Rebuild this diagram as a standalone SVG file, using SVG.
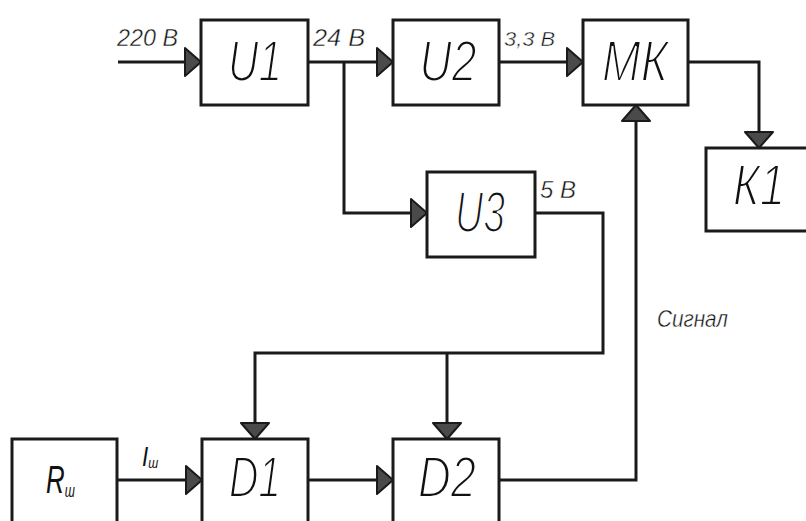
<svg xmlns="http://www.w3.org/2000/svg" width="806" height="521" viewBox="0 0 806 521">
<style>
.box{fill:#fff;stroke:#1a1a1a;stroke-width:3}
.ln{fill:none;stroke:#1a1a1a;stroke-width:3}
.t{font-family:"Liberation Sans",Arial,sans-serif;font-style:italic;fill:#111}
.big{font-size:57px;stroke:#fff;stroke-width:2px;paint-order:fill stroke}
.lbl{font-size:24px;stroke:#fff;stroke-width:0.45px;paint-order:fill stroke}
</style>
<defs>
<marker id="ah" viewBox="-2 -2 20 32" refX="16" refY="14" markerWidth="20" markerHeight="32" markerUnits="userSpaceOnUse" orient="auto" overflow="visible">
<path d="M0,0 L16,14 L0,28 Z" fill="#4a4a4a" stroke="#1a1a1a" stroke-width="2" stroke-linejoin="round"/>
</marker>
</defs>
<rect width="806" height="521" fill="#fff"/>
<g id="connectors">
<path class="ln" d="M118,62 H201" marker-end="url(#ah)"/>
<path class="ln" d="M308,62 H393" marker-end="url(#ah)"/>
<path class="ln" d="M344,62 V213 H427" marker-end="url(#ah)"/>
<path class="ln" d="M499,62 H583" marker-end="url(#ah)"/>
<path class="ln" d="M688,62 H759 V148" marker-end="url(#ah)"/>
<path class="ln" d="M535,213 H603 V353 H255 V439" marker-end="url(#ah)"/>
<path class="ln" d="M447,353 V439" marker-end="url(#ah)"/>
<path class="ln" d="M117,480 H202" marker-end="url(#ah)"/>
<path class="ln" d="M308,480 H393" marker-end="url(#ah)"/>
<path class="ln" d="M499,480 H636 V105" marker-end="url(#ah)"/>
<text class="t lbl" x="117" y="46" textLength="61" lengthAdjust="spacingAndGlyphs">220 В</text>
<text class="t lbl" x="313" y="46" textLength="52" lengthAdjust="spacingAndGlyphs">24  В</text>
<text class="t lbl" style="font-size:20px" x="504" y="46" textLength="51" lengthAdjust="spacingAndGlyphs">3,3 В</text>
<text class="t lbl" x="540" y="198" textLength="36" lengthAdjust="spacingAndGlyphs">5 В</text>
<text class="t lbl" x="657" y="327" textLength="71" lengthAdjust="spacingAndGlyphs">Сигнал</text>
<text class="t" style="font-size:28px" transform="translate(142,466) scale(0.8 1)">I<tspan style="font-size:15px" dy="2">ш</tspan></text>
</g>
<g id="U1"><rect class="box" x="201" y="20" width="107" height="85"/><text class="t big" x="255" y="81" text-anchor="middle" textLength="54" lengthAdjust="spacingAndGlyphs">U1</text></g>
<g id="U2"><rect class="box" x="393" y="20" width="106" height="85"/><text class="t big" x="448" y="81" text-anchor="middle" textLength="57" lengthAdjust="spacingAndGlyphs">U2</text></g>
<g id="MK"><rect class="box" x="583" y="20" width="105" height="85"/><text class="t big" x="635" y="81" text-anchor="middle" textLength="66" lengthAdjust="spacingAndGlyphs">МК</text></g>
<g id="K1"><rect class="box" x="706" y="148" width="110" height="83"/><text class="t big" x="759" y="205" text-anchor="middle" textLength="52" lengthAdjust="spacingAndGlyphs">К1</text></g>
<g id="U3"><rect class="box" x="427" y="172" width="108" height="85"/><text class="t big" x="480" y="232" text-anchor="middle" textLength="50" lengthAdjust="spacingAndGlyphs">U3</text></g>
<g id="Rsh"><rect class="box" x="12" y="439" width="105" height="100"/><text class="t" style="font-size:38px" transform="translate(46,493) scale(0.68 1)">R<tspan style="font-size:18px" dy="4">ш</tspan></text></g>
<g id="D1"><rect class="box" x="202" y="439" width="106" height="100"/><text class="t big" x="255" y="497" text-anchor="middle" textLength="52" lengthAdjust="spacingAndGlyphs">D1</text></g>
<g id="D2"><rect class="box" x="393" y="439" width="106" height="100"/><text class="t big" x="447" y="497" text-anchor="middle" textLength="58" lengthAdjust="spacingAndGlyphs">D2</text></g>
</svg>
